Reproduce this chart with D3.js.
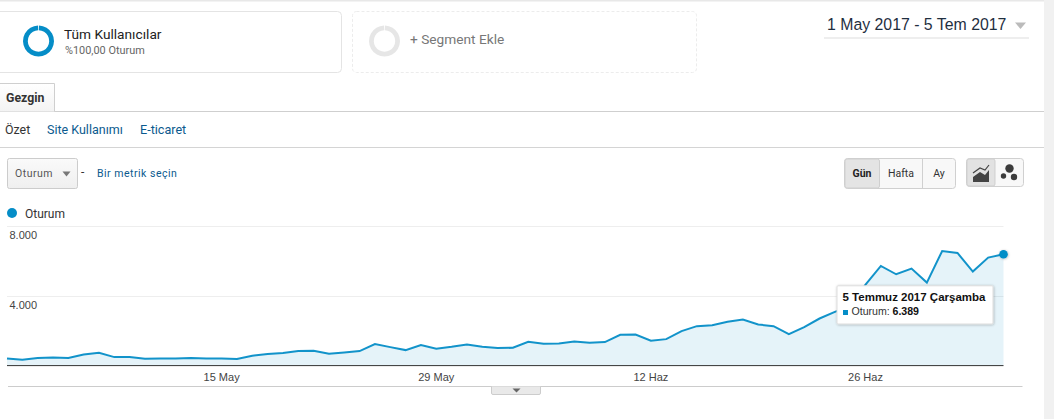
<!DOCTYPE html>
<html><head><meta charset="utf-8">
<script src="https://cdn.jsdelivr.net/npm/d3@7/dist/d3.min.js"></script>
<style>
html,body{margin:0;padding:0;background:#fff;overflow:hidden}
svg{display:block}
text{font-family:Roboto,sans-serif}
.ax{font-family:"Liberation Sans",Arial,sans-serif}
</style></head><body>
<svg id="c" width="1054" height="419"></svg>
<script>
const startDate = "2017-05-01";
const sessions = [402,325,421,459,421,631,727,478,478,383,402,402,421,402,402,363,555,650,708,823,842,670,746,
823,1224,1052,880,1167,957,1071,1205,1071,995,1014,1358,1243,1263,1377,1301,1339,1760,1779,1416,1511,1970,2257,
2315,2506,2640,2353,2257,1798,2200,2697,3080,3400,4649,5720,5242,5567,4763,6581,6466,5395,6198,6389];
const yTicks = [4000,8000];
const yTickLabels = ["4.000","8.000"];
const xTickDates = ["2017-05-15","2017-05-29","2017-06-12","2017-06-26"];
const xTickLabels = ["15 May","29 May","12 Haz","26 Haz"];
const seriesName = "Oturum";
const blue = "#058dc7";

const svg = d3.select("#c");
const parse = d3.utcParse("%Y-%m-%d");
const t0 = parse(startDate);
const dates = sessions.map((_,i)=>d3.utcDay.offset(t0,i));
const x = d3.scaleUtc().domain([dates[0],dates[dates.length-1]]).range([7,1003.5]);
const y = d3.scaleLinear().domain([0,8000]).range([365.4,226.3]);

function txt(px,py,s,size,fill,o={}){
  return svg.append("text").attr("x",px).attr("y",py).attr("font-size",size).attr("fill",fill)
    .attr("text-anchor",o.anchor||"start").attr("font-weight",o.weight||"normal")
    .attr("class",o.cls||null).attr("letter-spacing",o.ls||null).text(s);
}
function rect(px,py,w,h,fill,stroke,r,extra={}){
  const e=svg.append("rect").attr("x",px).attr("y",py).attr("width",w).attr("height",h)
    .attr("fill",fill).attr("stroke",stroke||"none").attr("rx",r||0);
  if(extra.dash)e.attr("stroke-dasharray",extra.dash);
  return e;
}
function hline(x1,x2,py,c,w){svg.append("line").attr("x1",x1).attr("x2",x2).attr("y1",py).attr("y2",py).attr("stroke",c).attr("stroke-width",w||1);}
function tri(cx,cy,w,h,c){svg.append("path").attr("d",d3.line()([[cx-w/2,cy],[cx+w/2,cy],[cx,cy+h]])+"Z").attr("fill",c);}

// page chrome
rect(1044,0,10,419,"#f1f1f1");
rect(0,0,1044,1.5,"#e8e8e8");

// segment cards
rect(-5,11.5,346.5,61,"#fff","#e4e4e4",4);
rect(352.5,11.5,344,61,"#fff","#ececec",4,{dash:"3,2"});
const ring = d3.arc().innerRadius(10.7).outerRadius(15.5).startAngle(0.03).endAngle(2*Math.PI-0.03);
svg.append("path").attr("transform","translate(38.5,41)").attr("d",ring()).attr("fill",blue);
svg.append("path").attr("transform","translate(384.5,41)").attr("d",ring()).attr("fill","#e6e6e6");
txt(64,39,"Tüm Kullanıcılar",13.7,"#222");
txt(65,54,"%100,00 Oturum",10.9,"#666");
txt(410,44,"+ Segment Ekle",13.7,"#777");

// date range
txt(827,30,"1 May 2017 - 5 Tem 2017",15.85,"#1f2f3f",{cls:"ax"});
tri(1020.5,22.5,11,6.5,"#bbb");
rect(824,37,205,2,"#eeeeee");

// tabs
hline(0,1044,111.5,"#cfcfcf");
hline(0,1044,147.5,"#d4d4d4");
const g = svg.append("defs").append("linearGradient").attr("id","tg").attr("x1",0).attr("x2",0).attr("y1",0).attr("y2",1);
g.append("stop").attr("offset","0").attr("stop-color","#fff");
g.append("stop").attr("offset","1").attr("stop-color","#f3f3f3");
svg.append("path").attr("d","M-1 111.5V83.5H54.5V111.5").attr("fill","url(#tg)").attr("stroke","#cfcfcf");
txt(6,102,"Gezgin",12.3,"#333",{weight:"bold"});
txt(5,134,"Özet",12.4,"#333");
txt(47,134,"Site Kullanımı",12.5,"#0b5a8e");
txt(140,134,"E-ticaret",12.6,"#0b5a8e");

// metric select
const bg = svg.select("defs").append("linearGradient").attr("id","bg").attr("x1",0).attr("x2",0).attr("y1",0).attr("y2",1);
bg.append("stop").attr("offset","0").attr("stop-color","#fafafa");
bg.append("stop").attr("offset","1").attr("stop-color","#efefef");
rect(7.5,158.5,70,30,"url(#bg)","#cccccc",2);
txt(15,177,"Oturum",10.5,"#555",{ls:".5"});
tri(66.5,171.5,8,5,"#777");
txt(81,176,"-",12,"#333");
txt(97,177,"Bir metrik seçin",10.5,"#0b5a8e",{ls:".5"});

// period buttons
rect(844.5,158.5,111,30,"#f8f8f8","#d0d0d0",3);
rect(845,159,34.5,29,"#e4e4e4","#cfcfcf",2);
svg.append("line").attr("x1",922.5).attr("x2",922.5).attr("y1",159).attr("y2",188).attr("stroke","#d0d0d0");
txt(862,177,"Gün",10.5,"#222",{anchor:"middle",weight:"bold"});
txt(901,177,"Hafta",10.5,"#333",{anchor:"middle"});
txt(939,177,"Ay",10.5,"#333",{anchor:"middle"});
rect(966.5,158.5,57,28,"#f8f8f8","#d0d0d0",3);
rect(967,159,28,27,"#e2e2e2","#cfcfcf",2);
svg.append("path").attr("d","M973 182V177L980 172L985 175L989 170V182Z").attr("fill","#444");
svg.append("path").attr("d","M973 173L980 168L985 170L989 165").attr("fill","none").attr("stroke","#444").attr("stroke-width",1.2);
[[1009.5,168.5,4.2],[1003.5,176,2.7],[1014,177,3.2]].forEach(d=>svg.append("circle").attr("cx",d[0]).attr("cy",d[1]).attr("r",d[2]).attr("fill","#3c3c3c"));

// legend
svg.append("circle").attr("cx",12).attr("cy",213).attr("r",5).attr("fill",blue);
txt(25,218,seriesName,12,"#333");

// grid + axes
svg.append("g").selectAll("line").data(yTicks).join("line")
  .attr("x1",7).attr("x2",1003.5).attr("y1",d=>Math.round(y(d))+.5).attr("y2",d=>Math.round(y(d))+.5).attr("stroke","#eeeeee");

const area = d3.area().x((d,i)=>x(dates[i])).y0(y(0)).y1(d=>y(d));
const line = d3.line().x((d,i)=>x(dates[i])).y(d=>y(d));
svg.append("path").datum(sessions).attr("d",area).attr("fill",blue).attr("fill-opacity",.105);
svg.append("path").datum(sessions).attr("d",line).attr("fill","none").attr("stroke",blue).attr("stroke-width",2).attr("stroke-opacity",.95);

svg.append("line").attr("x1",7).attr("x2",1003.5).attr("y1",y(0)+.2).attr("y2",y(0)+.2).attr("stroke","#333").attr("stroke-width",1);

svg.append("g").selectAll("text").data(yTicks).join("text").attr("class","ax")
  .attr("x",9.5).attr("y",d=>y(d)+13).attr("font-size",11).attr("fill","#444")
  .text((d,i)=>yTickLabels[i]);
svg.append("g").selectAll("text").data(xTickDates).join("text").attr("class","ax")
  .attr("x",d=>x(parse(d))).attr("y",380.5).attr("text-anchor","middle").attr("font-size",11).attr("fill","#444")
  .text((d,i)=>xTickLabels[i]);

hline(8,1022.5,386.5,"#cccccc");
svg.append("path").attr("d","M491.5 386.5V393a1.5 1.5 0 0 0 1.5 1.5H539a1.5 1.5 0 0 0 1.5-1.5V386.5").attr("fill","#e9e9e9").attr("stroke","#ccc");
tri(516.5,388.5,8,4,"#666");

// hover point
const last = sessions.length-1;
const f = svg.select("defs").append("filter").attr("id","sh").attr("x","-30%").attr("y","-30%").attr("width","160%").attr("height","160%");
f.append("feDropShadow").attr("dx",.5).attr("dy",.5).attr("stdDeviation",1.2).attr("flood-color","#000").attr("flood-opacity",.28);
svg.append("circle").attr("cx",x(dates[last])).attr("cy",y(sessions[last])).attr("r",4.3).attr("fill",blue).attr("filter","url(#sh)");

// tooltip
rect(837,285.8,156,38.2,"#fff","#dddddd",1).attr("filter","url(#sh)");
txt(842.5,301,"5 Temmuz 2017 Çarşamba",11.5,"#111",{cls:"ax",weight:"bold"});
rect(843,310,5,5,blue);
txt(851.5,315,seriesName+":",10.6,"#333",{cls:"ax"});
txt(892.5,315,d3.format(",")(sessions[last]).replace(",","."),10.6,"#111",{cls:"ax",weight:"bold"});
</script>
</body></html>
